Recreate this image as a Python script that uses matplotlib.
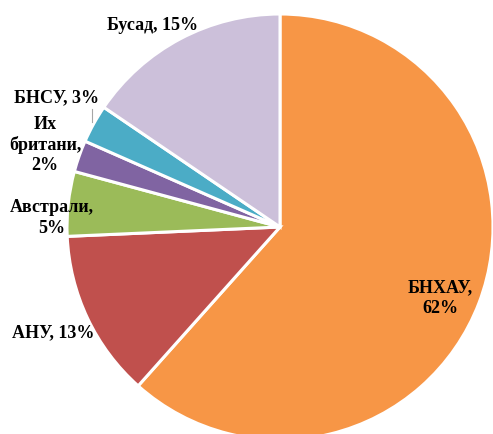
import matplotlib.pyplot as plt

# share of each country
countries = ["БНХАУ", "АНУ", "Австрали", "Их британи", "БНСУ", "Бусад"]
shares = [61.6, 12.7, 4.9, 2.4, 2.9, 15.5]
labels = ["БНХАУ,\n62%", "АНУ, 13%", "Австрали,\n5%", "Их\nбритани,\n2%", "БНСУ, 3%", "Бусад, 15%"]
colors = ["#F79646", "#C0504D", "#9BBB59", "#8064A2", "#4BACC6", "#CCC0DA"]

W, H = 493, 434
fig = plt.figure(figsize=(W / 100, H / 100), dpi=100)
ax = fig.add_axes([0, 0, 1, 1])

cx, cy, r = 280, H - 227, 213
ax.pie(shares, colors=colors, startangle=90, counterclock=False,
       center=(cx, cy), radius=r, frame=True,
       wedgeprops=dict(edgecolor="white", linewidth=2.2))
ax.set_xlim(0, W)
ax.set_ylim(0, H)
ax.set_aspect("equal")
ax.axis("off")

# label positions in pixel coords (x, y from top)
label_pos = [(440, 298), (53, 333), (52, 218), (45, 145), (57, 98), (153, 25)]
font = dict(family=["Liberation Serif", "DejaVu Serif"], fontsize=13,
            fontweight="bold", color="black", ha="center", va="center",
            linespacing=1.25)
for lab, (x, y) in zip(labels, label_pos):
    ax.text(x, H - y, lab, **font)

# leader line for the small БНСУ slice
ax.plot([92, 92], [H - 109, H - 122], color="#A6A6A6", lw=0.8)

fig.savefig("out.png", dpi=100)
